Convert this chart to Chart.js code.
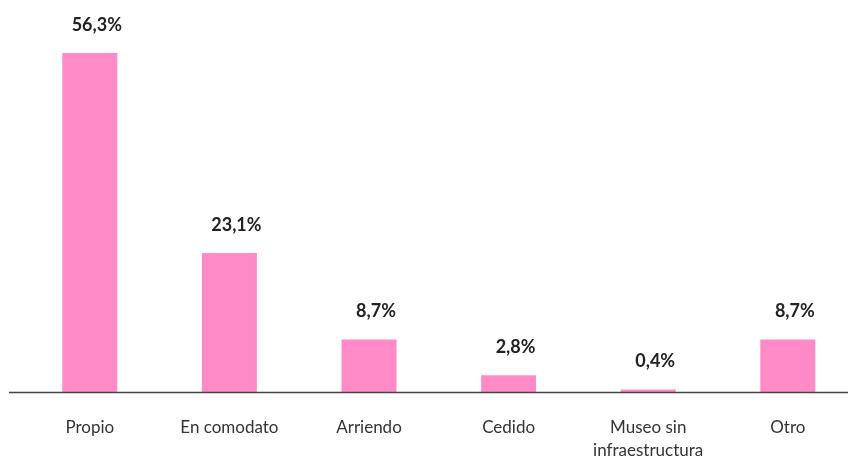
<!DOCTYPE html>
<html>
<head>
<meta charset="utf-8">
<script src="https://cdn.jsdelivr.net/npm/chart.js@4"></script>
<style>
  html, body { margin: 0; padding: 0; background: #fff; overflow: hidden; }
  #wrap { width: 870px; height: 458px; }
</style>
</head>
<body>
<div id="wrap"><canvas id="chartBar" width="870" height="458"></canvas></div>
<script>
const categories = ["Propio", "En comodato", "Arriendo", "Cedido", ["Museo sin", "infraestructura"], "Otro"];
const values = [56.3, 23.1, 8.7, 2.8, 0.4, 8.7];
const valueLabels = ["56,3%", "23,1%", "8,7%", "2,8%", "0,4%", "8,7%"];

// value labels above bars
const barLabels = {
  id: "barLabels",
  afterDatasetsDraw(chart) {
    const ctx = chart.ctx;
    const meta = chart.getDatasetMeta(0);
    ctx.save();
    ctx.font = "bold 18px Lato";
    ctx.fillStyle = "#222";
    ctx.textAlign = "center";
    ctx.textBaseline = "middle";
    meta.data.forEach((bar, i) => {
      ctx.fillText(valueLabels[i], bar.x + 7, bar.y - 28);
    });
    ctx.restore();
  }
};

// baseline across the whole width
const baseLine = {
  id: "baseLine",
  afterDatasetsDraw(chart) {
    const ctx = chart.ctx;
    const y = chart.scales.y.getPixelForValue(0) + 0.5;
    ctx.save();
    ctx.strokeStyle = "#444";
    ctx.lineWidth = 1.5;
    ctx.beginPath();
    ctx.moveTo(9, y);
    ctx.lineTo(chart.width, y);
    ctx.stroke();
    ctx.restore();
  }
};

new Chart(document.getElementById("chartBar").getContext("2d"), {
  type: "bar",
  data: {
    labels: categories,
    datasets: [{
      data: values,
      backgroundColor: "#FF8AC8",
      barPercentage: 0.394,
      categoryPercentage: 1
    }]
  },
  options: {
    responsive: false,
    animation: false,
    layout: { padding: { left: 20, right: 12.4, top: 53, bottom: 0 } },
    plugins: { legend: { display: false }, tooltip: { enabled: false } },
    scales: {
      x: {
        grid: { display: false },
        border: { display: false },
        ticks: { color: "#333", font: { family: "Lato", size: 17, lineHeight: 1.35 }, padding: 16, maxRotation: 0, autoSkip: false },
        afterFit(scale) { scale.height = 66; }
      },
      y: {
        display: false,
        min: 0,
        max: 56.3,
        afterFit(scale) { scale.width = 0; }
      }
    }
  },
  plugins: [barLabels, baseLine]
});
</script>
</body>
</html>
